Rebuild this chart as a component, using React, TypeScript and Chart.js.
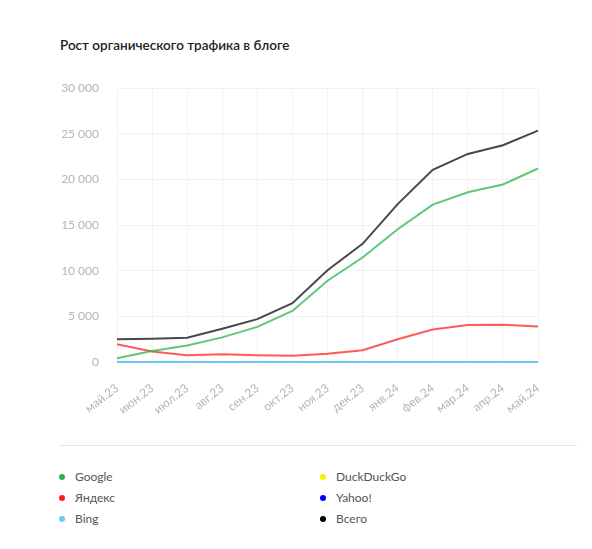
import React, { useEffect, useRef } from "react";
import { Chart, registerables } from "chart.js";

Chart.register(...registerables);

const categories = ["май.23", "июн.23", "июл.23", "авг.23", "сен.23", "окт.23", "ноя.23", "дек.23", "янв.24", "фев.24", "мар.24", "апр.24", "май.24"];
const google = [400, 1200, 1800, 2700, 3850, 5600, 8900, 11450, 14550, 17250, 18600, 19450, 21200];
const yandex = [1950, 1150, 750, 850, 750, 680, 900, 1280, 2500, 3550, 4050, 4070, 3900];
const bing = [0, 0, 0, 0, 0, 0, 0, 0, 0, 0, 0, 0, 0];
const duckduckgo = [0, 0, 0, 0, 0, 0, 0, 0, 0, 0, 0, 0, 0];
const yahoo = [0, 0, 0, 0, 0, 0, 0, 0, 0, 0, 0, 0, 0];
const total = [2500, 2550, 2650, 3650, 4700, 6450, 10050, 12950, 17300, 21050, 22800, 23750, 25350];
const yTicks = [0, 5000, 10000, 15000, 20000, 25000, 30000];

const legendItems = [
  { label: "Google", color: "#2db34a" },
  { label: "DuckDuckGo", color: "#ffee00" },
  { label: "Яндекс", color: "#ff1a1a" },
  { label: "Yahoo!", color: "#0000ff" },
  { label: "Bing", color: "#66ccff" },
  { label: "Всего", color: "#000000" },
];

const fmt = (v: number) => String(v).replace(/\B(?=(\d{3})+(?!\d))/g, " ");

export default function App() {
  const ref = useRef<HTMLCanvasElement | null>(null);
  useEffect(() => {
    if (!ref.current) return;
    const chart = new Chart(ref.current, {
      type: "line",
      data: {
        labels: categories,
        datasets: [
          { label: "DuckDuckGo", data: duckduckgo, borderColor: "rgba(255,238,0,0.6)", order: 6 },
          { label: "Yahoo!", data: yahoo, borderColor: "rgba(0,0,255,0.3)", order: 5 },
          { label: "Bing", data: bing, borderColor: "rgba(102,204,255,0.9)", order: 4 },
          { label: "Яндекс", data: yandex, borderColor: "rgba(255,26,26,0.72)", order: 3 },
          { label: "Google", data: google, borderColor: "rgba(45,179,74,0.75)", order: 2 },
          { label: "Всего", data: total, borderColor: "rgba(0,0,0,0.72)", order: 1 },
        ].map((d) => ({
          ...d,
          borderWidth: 2,
          pointRadius: 0,
          pointHoverRadius: 0,
          tension: 0,
          fill: false,
          clip: false as any,
        })),
      },
      options: {
        animation: false,
        responsive: false,
        maintainAspectRatio: false,
        layout: { padding: { top: 15, right: 30, left: 0, bottom: 0 } },
        plugins: { legend: { display: false }, tooltip: { enabled: false }, title: { display: false } },
        scales: {
          x: {
            grid: { color: "#f2f2f2", drawTicks: false },
            border: { display: false },
            ticks: {
              color: "#b5b5b5",
              font: { family: "Lato", size: 12 },
              minRotation: 38,
              maxRotation: 38,
              autoSkip: false,
              padding: 19,
            },
            afterFit: (s: any) => {
              s.height = 62;
            },
          },
          y: {
            min: 0,
            max: 30000,
            grid: { color: "#f2f2f2", drawTicks: false },
            border: { display: false },
            afterBuildTicks: (s: any) => {
              s.ticks = yTicks.map((v) => ({ value: v }));
            },
            ticks: {
              color: "#b5b5b5",
              font: { family: "Lato", size: 12 },
              padding: 18,
              callback: (v: any) => fmt(Number(v)),
            },
            afterFit: (s: any) => {
              s.width = 109;
            },
          },
        },
      },
    });
    return () => chart.destroy();
  }, []);

  return (
    <div style={{ position: "relative", width: 576, height: 533, fontFamily: "Lato, sans-serif" }}>
      <div
        style={{
          position: "absolute",
          left: 52,
          top: 28,
          fontSize: 13.5,
          fontWeight: 600,
          color: "#222",
          whiteSpace: "nowrap",
          lineHeight: "18px",
        }}
      >
        Рост органического трафика в блоге
      </div>
      <div style={{ position: "absolute", left: 0, top: 55, width: 560, height: 361 }}>
        <canvas ref={ref} width={560} height={361} style={{ width: 560, height: 361 }} />
      </div>
      <div style={{ position: "absolute", left: 51, top: 437, width: 518, height: 1, background: "#e6e6e6" }} />
      <div
        style={{
          position: "absolute",
          left: 51,
          top: 458,
          width: 520,
          display: "grid",
          gridTemplateColumns: "261px 259px",
          rowGap: 0,
        }}
      >
        {legendItems.map((it) => (
          <div key={it.label} style={{ display: "flex", alignItems: "center", height: 21, fontSize: 12, color: "#555" }}>
            <span
              style={{
                display: "inline-block",
                width: 6,
                height: 6,
                borderRadius: "50%",
                background: it.color,
                marginRight: 10,
              }}
            />
            {it.label}
          </div>
        ))}
      </div>
    </div>
  );
}
